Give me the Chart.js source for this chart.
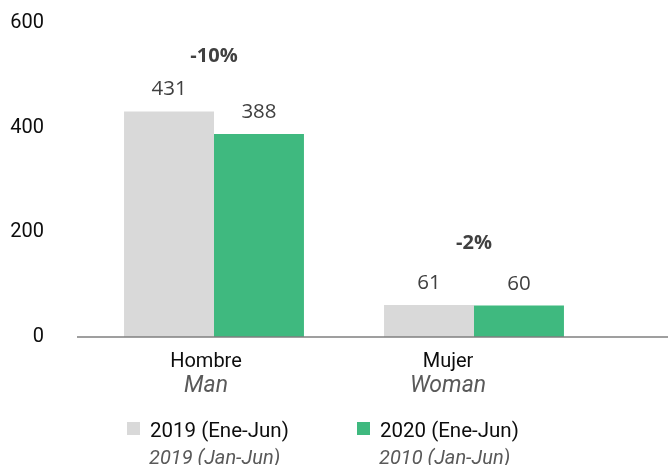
<!DOCTYPE html>
<html>
<head>
<meta charset="utf-8">
<script src="https://cdn.jsdelivr.net/npm/chart.js@4.4.1/dist/chart.umd.min.js"></script>
<style>
html, body { margin: 0; padding: 0; background: #fff; }
#wrap { width: 668px; height: 465px; position: relative; }
</style>
</head>
<body>
<div id="wrap"><canvas id="chart"></canvas></div>
<script>
const categories = ["Hombre", "Mujer"];
const categoriesEn = ["Man", "Woman"];
const seriesNames = ["2019 (Ene-Jun)", "2020 (Ene-Jun)"];
const seriesNamesEn = ["2019 (Jan-Jun)", "2010 (Jan-Jun)"];
const values2019 = [431, 61];
const values2020 = [388, 60];
const yTicks = [0, 200, 400, 600];

const colors = ["#d9d9d9", "#3fb97f"];
const textFont = "Roboto, 'Open Sans', sans-serif";
const numFont = "'Open Sans', Roboto, sans-serif";

// x axis line runs past the last category to the canvas edge
const baseline = {
    id: "baseline",
    afterDatasetsDraw(chart) {
        const ctx = chart.ctx;
        const y = chart.scales.y.getPixelForValue(0);
        ctx.save();
        ctx.strokeStyle = "#7f7f7f";
        ctx.lineWidth = 1.5;
        ctx.beginPath();
        ctx.moveTo(77, y);
        ctx.lineTo(chart.width, y);
        ctx.stroke();
        ctx.restore();
    }
};

// numbers above each bar
const valueLabels = {
    id: "valueLabels",
    afterDatasetsDraw(chart) {
        const ctx = chart.ctx;
        ctx.save();
        ctx.font = "20.5px " + numFont;
        ctx.fillStyle = "#404040";
        ctx.textAlign = "center";
        ctx.textBaseline = "alphabetic";
        chart.data.datasets.forEach((ds, d) => {
            chart.getDatasetMeta(d).data.forEach((bar, i) => {
                ctx.fillText(String(ds.data[i]), bar.x, bar.y - 16);
            });
        });
        ctx.restore();
    }
};

// year-on-year change over each pair of bars
const changeLabels = {
    id: "changeLabels",
    afterDatasetsDraw(chart, args, opts) {
        const ctx = chart.ctx;
        const xs = chart.scales.x;
        const ys = chart.scales.y;
        ctx.save();
        ctx.font = "bold 20px " + numFont;
        ctx.fillStyle = "#404040";
        ctx.textAlign = "center";
        ctx.textBaseline = "alphabetic";
        categories.forEach((c, i) => {
            const a = values2019[i];
            const b = values2020[i];
            const pct = Math.round((b - a) / a * 100);
            const top = ys.getPixelForValue(Math.max(a, b));
            ctx.fillText(pct + "%", xs.getPixelForValue(i), top - opts.offset[i]);
        });
        ctx.restore();
    }
};

// two-line category labels: Spanish, then English in grey italics
const catLabels = {
    id: "catLabels",
    afterDraw(chart, args, opts) {
        const ctx = chart.ctx;
        const xs = chart.scales.x;
        const y0 = chart.scales.y.getPixelForValue(0);
        ctx.save();
        ctx.textAlign = "center";
        ctx.textBaseline = "alphabetic";
        categories.forEach((c, i) => {
            const x = xs.getPixelForValue(i) + opts.shift[i];
            ctx.font = "20px " + textFont;
            ctx.fillStyle = "#0d0d0d";
            ctx.fillText(c, x, y0 + 30);
            ctx.font = "italic 23px " + textFont;
            ctx.fillStyle = "#595959";
            ctx.fillText(categoriesEn[i], x, y0 + 55);
        });
        ctx.restore();
    }
};

// legend under the chart
const legendBlock = {
    id: "legendBlock",
    afterDraw(chart) {
        const ctx = chart.ctx;
        const items = [{ x: 127 }, { x: 357 }];
        ctx.save();
        ctx.textAlign = "left";
        ctx.textBaseline = "alphabetic";
        items.forEach((it, i) => {
            ctx.fillStyle = colors[i];
            ctx.fillRect(it.x, 422, 13, 13);
            ctx.font = "20.5px " + textFont;
            ctx.fillStyle = "#0d0d0d";
            ctx.fillText(seriesNames[i], it.x + 23, 437);
            ctx.font = "italic 20px " + textFont;
            ctx.fillStyle = "#595959";
            ctx.fillText(seriesNamesEn[i], it.x + 22, 464);
        });
        ctx.restore();
    }
};

new Chart(document.getElementById("chart"), {
    type: "bar",
    data: {
        labels: categories,
        datasets: [
            { label: seriesNames[0], data: values2019, backgroundColor: colors[0] },
            { label: seriesNames[1], data: values2020, backgroundColor: colors[1] }
        ]
    },
    options: {
        responsive: true,
        maintainAspectRatio: false,
        animation: false,
        layout: { padding: { top: 23, right: 64, bottom: 128, left: 0 } },
        datasets: {
            bar: { categoryPercentage: 0.692, barPercentage: 1.0, borderWidth: 0 }
        },
        scales: {
            x: {
                grid: { display: false, drawTicks: false },
                border: { display: false },
                ticks: { display: false },
                afterFit: s => { s.height = 0; }
            },
            y: {
                min: 0,
                max: 600,
                grid: { display: false, drawTicks: false },
                border: { display: false },
                afterBuildTicks: s => { s.ticks = yTicks.map(v => ({ value: v })); },
                afterFit: s => { s.width = 84; s.paddingTop = 0; s.paddingBottom = 0; },
                ticks: {
                    padding: 40,
                    color: "#0d0d0d",
                    font: { family: textFont, size: 20 }
                }
            }
        },
        plugins: {
            legend: { display: false },
            tooltip: { enabled: false },
            changeLabels: { offset: [49, 56] },
            catLabels: { shift: [-8, -26] }
        }
    },
    plugins: [baseline, valueLabels, changeLabels, catLabels, legendBlock]
});
</script>
</body>
</html>
